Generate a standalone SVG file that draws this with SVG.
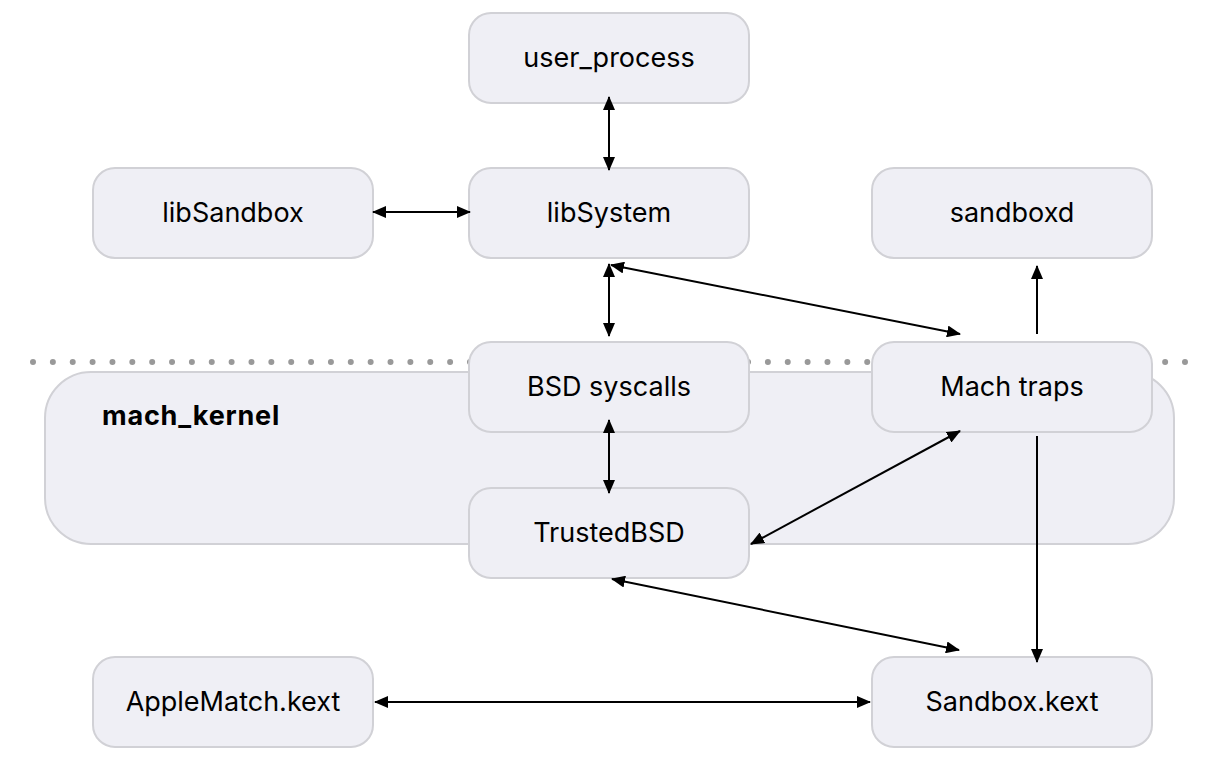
<svg xmlns="http://www.w3.org/2000/svg" width="1216" height="760" viewBox="0 0 1216 760">
<defs>
<style>
.n{fill:#efeff5;stroke:#d1d1d6;stroke-width:2}
.t{font-family:Inter,"Liberation Sans",Arial,sans-serif;font-size:27px;fill:#000;text-anchor:middle}
.b{font-family:Inter,"Liberation Sans",Arial,sans-serif;font-size:27px;font-weight:bold;letter-spacing:0.8px;fill:#000}
.c{stroke:#000;stroke-width:2;fill:none}
</style>
<marker id="ae" viewBox="0 0 14 12" refX="13" refY="6" markerWidth="14" markerHeight="12" markerUnits="userSpaceOnUse" orient="auto">
<path d="M0,0 L14,6 L0,12 Z" fill="#000"/>
</marker>
<marker id="as" viewBox="0 0 14 12" refX="1" refY="6" markerWidth="14" markerHeight="12" markerUnits="userSpaceOnUse" orient="auto">
<path d="M14,0 L0,6 L14,12 Z" fill="#000"/>
</marker>
</defs>
<rect width="1216" height="760" fill="#fff"/>
<g id="mach_kernel">
<rect class="n" x="45" y="372" width="1129" height="172" rx="46"/>
<text class="b" x="102" y="425">mach_kernel</text>
</g>
<g id="boundary">
<line x1="33" y1="362" x2="1187" y2="362" stroke="#999" stroke-width="6" stroke-linecap="round" stroke-dasharray="0 19.862"/>
</g>
<g id="user_process"><rect class="n" x="469" y="13" width="280" height="90" rx="22"/><text class="t" x="609" y="67">user_process</text></g>
<g id="libSandbox"><rect class="n" x="93" y="168" width="280" height="90" rx="22"/><text class="t" x="233" y="222">libSandbox</text></g>
<g id="libSystem"><rect class="n" x="469" y="168" width="280" height="90" rx="22"/><text class="t" x="609" y="222">libSystem</text></g>
<g id="sandboxd"><rect class="n" x="872" y="168" width="280" height="90" rx="22"/><text class="t" x="1012" y="222">sandboxd</text></g>
<g id="bsd_syscalls"><rect class="n" x="469" y="342" width="280" height="90" rx="22"/><text class="t" x="609" y="396">BSD syscalls</text></g>
<g id="mach_traps"><rect class="n" x="872" y="342" width="280" height="90" rx="22"/><text class="t" x="1012" y="396">Mach traps</text></g>
<g id="trustedbsd"><rect class="n" x="469" y="488" width="280" height="90" rx="22"/><text class="t" x="609" y="542">TrustedBSD</text></g>
<g id="applematch"><rect class="n" x="93" y="657" width="280" height="90" rx="22"/><text class="t" x="233" y="711">AppleMatch.kext</text></g>
<g id="sandbox_kext"><rect class="n" x="872" y="657" width="280" height="90" rx="22"/><text class="t" x="1012" y="711">Sandbox.kext</text></g>
<g id="connectors">
<line class="c" x1="609" y1="97" x2="609" y2="170" marker-start="url(#as)" marker-end="url(#ae)"/>
<line class="c" x1="373" y1="212" x2="470" y2="212" marker-start="url(#as)" marker-end="url(#ae)"/>
<line class="c" x1="609" y1="264" x2="609" y2="336" marker-start="url(#as)" marker-end="url(#ae)"/>
<line class="c" x1="611" y1="265" x2="960" y2="334" marker-start="url(#as)" marker-end="url(#ae)"/>
<line class="c" x1="1037" y1="334" x2="1037" y2="266" marker-end="url(#ae)"/>
<line class="c" x1="609" y1="420" x2="609" y2="493" marker-start="url(#as)" marker-end="url(#ae)"/>
<line class="c" x1="751" y1="544" x2="960" y2="431" marker-start="url(#as)" marker-end="url(#ae)"/>
<line class="c" x1="1037" y1="436" x2="1037" y2="662" marker-end="url(#ae)"/>
<line class="c" x1="612" y1="579" x2="959" y2="650" marker-start="url(#as)" marker-end="url(#ae)"/>
<line class="c" x1="375" y1="702" x2="870" y2="702" marker-start="url(#as)" marker-end="url(#ae)"/>
</g>
</svg>
